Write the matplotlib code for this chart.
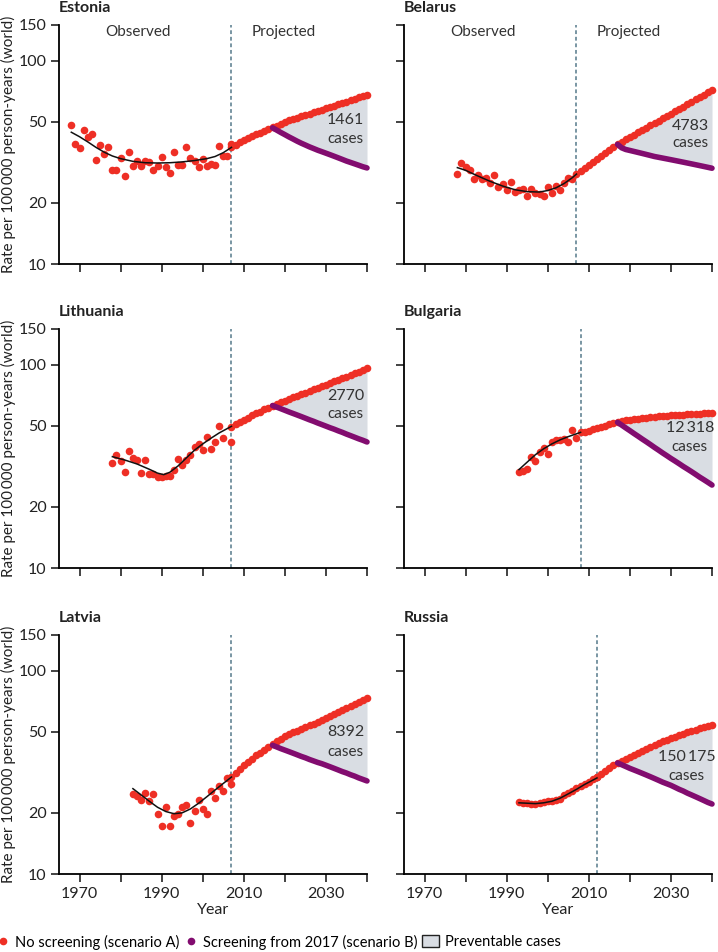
import numpy as np
import matplotlib
matplotlib.use('Agg')
from matplotlib import pyplot as plt
from matplotlib.lines import Line2D
from matplotlib.patches import Patch

plt.rcParams['font.family'] = ['Lato', 'DejaVu Sans']

RED = '#ee2f25'
PURPLE = '#820c6f'
FILL = '#d9dde3'
DASH = '#55798a'

# ---- data ----
countries = ['Estonia', 'Belarus', 'Lithuania', 'Bulgaria', 'Latvia', 'Russia']
cases = ['1461', '4783', '2770', '12\u2009318', '8392', '150\u2009175']
cutoff = [2007, 2007, 2007, 2008, 2007, 2012]

obs_years = {
    'Estonia': list(range(1968, 2008)),
    'Belarus': list(range(1978, 2007)),
    'Lithuania': list(range(1978, 2006)) + [2007],
    'Bulgaria': list(range(1993, 2008)),
    'Latvia': list(range(1983, 2008)),
    'Russia': list(range(1993, 2013)),
}
obs_rate = {
    'Estonia': [48.3, 38.8, 37.1, 45.8, 42.0, 43.8, 32.6, 38.4, 34.7, 37.8,
                29.1, 29.1, 33.1, 27.1, 35.4, 30.5, 32.0, 30.5, 32.0, 31.6,
                29.1, 30.5, 33.6, 30.1, 28.1, 35.7, 30.8, 30.8, 37.6, 33.2,
                32.3, 30.1, 32.9, 30.2, 31.1, 30.6, 38.2, 34.0, 34.0, 38.8],
    'Belarus': [27.6, 31.3, 30.1, 29.0, 26.2, 27.5, 26.2, 26.5, 25.0, 27.5,
                23.8, 24.7, 23.1, 25.3, 22.7, 23.1, 23.4, 21.6, 23.5, 22.4,
                22.1, 21.6, 23.8, 22.4, 24.3, 23.1, 25.1, 26.6, 26.1],
    'Lithuania': [32.7, 36.1, 33.7, 29.7, 37.8, 34.6, 34.1, 29.3, 33.9, 29.1,
                  29.0, 28.2, 27.9, 28.5, 28.4, 30.5, 34.5, 32.0, 34.0, 35.8,
                  39.3, 40.8, 38.2, 44.2, 38.6, 41.5, 50.1, 43.6, 41.5],
    'Bulgaria': [29.7, 29.9, 30.7, 35.3, 33.5, 37.2, 38.9, 36.5, 41.5, 42.5,
                 42.5, 43.3, 41.5, 48.0, 43.6],
    'Latvia': [24.7, 24.3, 23.1, 24.9, 22.9, 24.7, 19.7, 17.3, 21.4, 17.3,
               19.3, 19.7, 21.4, 21.9, 17.9, 20.4, 23.1, 20.8, 19.7, 25.6,
               23.7, 27.2, 25.6, 29.6, 27.7],
    'Russia': [22.5, 22.3, 22.4, 22.2, 22.1, 22.3, 22.6, 22.9, 22.8, 23.2,
               23.4, 24.4, 25.0, 25.7, 26.5, 27.2, 27.8, 28.5, 29.4, 30.0],
}

fit_years = {
    'Estonia': [1968, 1970, 1972, 1974, 1976, 1978, 1980, 1983, 1986, 1989,
                1992, 1995, 1998, 2001, 2003, 2005, 2007],
    'Belarus': [1978, 1980, 1983, 1986, 1989, 1992, 1995, 1998, 2000, 2002,
                2004, 2006, 2007],
    'Lithuania': [1978, 1981, 1984, 1987, 1989, 1990.5, 1992, 1994, 1996,
                  1998, 2000, 2002, 2004, 2007],
    'Bulgaria': [1993, 1995, 1997, 1999, 2001, 2003, 2005, 2008],
    'Latvia': [1983, 1985, 1987, 1989, 1991, 1993, 1995, 1997, 1999, 2001,
               2003, 2005, 2007],
    'Russia': [1993, 1995, 1997, 1999, 2001, 2003, 2005, 2007, 2009, 2012],
}
fit_rate = {
    'Estonia': [44.5, 42.3, 39.9, 37.5, 35.5, 34.0, 33.0, 32.0, 31.5, 31.4,
                31.5, 31.8, 32.3, 33.0, 33.8, 35.3, 37.5],
    'Belarus': [29.8, 28.9, 27.1, 25.5, 24.2, 23.2, 22.7, 22.6, 23.0, 23.7,
                24.9, 26.6, 27.7],
    'Lithuania': [35.3, 34.0, 32.5, 30.6, 29.3, 28.8, 29.6, 31.8, 34.8, 38.0,
                  40.8, 43.5, 46.2, 49.8],
    'Bulgaria': [30.5, 33.2, 36.1, 38.6, 40.8, 42.7, 44.3, 46.5],
    'Latvia': [26.3, 24.5, 22.8, 21.3, 20.3, 19.8, 20.0, 20.9, 22.3, 24.0,
               25.9, 27.9, 30.0],
    'Russia': [22.4, 22.3, 22.2, 22.4, 22.8, 23.6, 24.8, 26.1, 27.6, 29.7],
}

# scenario A projections, one value per year from the cutoff year to 2040
proj_a = {
    'Estonia': [37.5, 38.6, 39.7, 40.7, 41.6, 42.5, 43.4, 44.3, 45.2, 46.1,
                47.0, 48.0, 49.1, 50.1, 50.9, 51.7, 52.5, 53.3, 54.1, 54.9,
                55.7, 56.5, 57.4, 58.3, 59.2, 60.1, 61.0, 62.0, 63.0, 64.0,
                65.0, 66.0, 67.0, 68.0],
    'Belarus': [27.8, 28.7, 29.7, 30.7, 31.7, 32.8, 33.9, 35.0, 36.2, 37.5,
                38.8, 39.9, 41.0, 42.1, 43.2, 44.4, 45.6, 46.8, 48.1, 49.4,
                50.7, 52.1, 53.5, 54.9, 56.4, 57.9, 59.5, 61.1, 62.8, 64.5,
                66.2, 68.0, 69.9, 71.8],
    'Lithuania': [49.5, 50.9, 52.3, 53.7, 55.0, 56.3, 57.6, 58.9, 60.3, 61.6,
                  63.0, 64.2, 65.4, 66.6, 67.8, 69.1, 70.4, 71.7, 73.0, 74.3,
                  75.7, 77.1, 78.4, 79.8, 81.3, 82.8, 84.3, 85.9, 87.5, 89.1,
                  90.8, 92.5, 94.2, 96.0],
    'Bulgaria': [46.5, 46.9, 47.4, 48.1, 48.8, 49.5, 50.2, 50.9, 51.5, 52.1,
                 52.7, 53.2, 53.7, 54.0, 54.3, 54.6, 54.9, 55.2, 55.5, 55.7,
                 55.9, 56.2, 56.4, 56.6, 56.8, 56.9, 57.1, 57.2, 57.4, 57.5,
                 57.6, 57.8, 57.9],
    'Latvia': [30.0, 31.5, 33.0, 34.4, 35.7, 37.0, 38.3, 39.6, 40.9, 42.2,
               43.6, 45.0, 46.4, 47.7, 48.7, 49.7, 50.7, 51.7, 52.7, 53.8,
               54.9, 56.0, 57.1, 58.3, 59.7, 61.1, 62.5, 64.0, 65.5, 67.0,
               68.6, 70.2, 71.9, 73.6],
    'Russia': [30.1, 31.1, 32.1, 33.2, 34.2, 35.3, 36.1, 37.0, 37.8, 38.7,
               39.6, 40.5, 41.4, 42.3, 43.1, 44.0, 44.9, 45.7, 46.6, 47.4,
               48.2, 49.0, 49.8, 50.5, 51.3, 52.0, 52.7, 53.4, 54.1],
}

# scenario B, screening from 2017, one value per year 2017-2040
proj_b_years = list(range(2017, 2041))
proj_b = {
    'Estonia': [46.8, 45.6, 44.4, 43.3, 42.2, 41.2, 40.2, 39.3, 38.5, 37.7,
                37.0, 36.3, 35.7, 35.1, 34.5, 33.9, 33.3, 32.7, 32.1, 31.6,
                31.1, 30.6, 30.1, 29.7],
    'Belarus': [38.8, 37.3, 36.6, 36.2, 35.8, 35.4, 35.0, 34.6, 34.2, 33.8,
                33.5, 33.2, 32.9, 32.6, 32.3, 32.0, 31.7, 31.4, 31.1, 30.8,
                30.5, 30.2, 29.9, 29.6],
    'Lithuania': [63.0, 61.9, 60.8, 59.7, 58.6, 57.6, 56.6, 55.6, 54.6, 53.6,
                  52.7, 51.7, 50.8, 49.9, 49.0, 48.2, 47.3, 46.5, 45.6, 44.8,
                  44.0, 43.2, 42.5, 41.7],
    'Bulgaria': [52.1, 50.5, 48.9, 47.4, 45.9, 44.5, 43.1, 41.8, 40.5, 39.2,
                 38.0, 36.8, 35.7, 34.6, 33.6, 32.6, 31.6, 30.7, 29.8, 28.9,
                 28.0, 27.2, 26.4, 25.6],
    'Latvia': [43.0, 42.2, 41.4, 40.7, 40.0, 39.3, 38.6, 37.9, 37.3, 36.6,
               36.0, 35.4, 34.9, 34.3, 33.7, 33.1, 32.5, 31.9, 31.4, 30.8,
               30.3, 29.7, 29.2, 28.7],
    'Russia': [35.2, 34.5, 33.8, 33.1, 32.5, 31.9, 31.3, 30.7, 30.1, 29.5,
               28.9, 28.3, 27.8, 27.3, 26.7, 26.1, 25.6, 25.0, 24.5, 24.0,
               23.5, 23.0, 22.5, 22.1],
}

# text position of the "cases" label (year, rate of number line, rate of "cases" line)
label_pos = {
    'Estonia': (2034.8, 51.2, 41.0),
    'Belarus': (2034.8, 47.7, 39.4),
    'Lithuania': (2034.8, 70.5, 57.3),
    'Bulgaria': (2034.6, 48.9, 39.3),
    'Latvia': (2034.8, 49.8, 40.0),
    'Russia': (2033.8, 37.5, 30.5),
}

yticks = [10, 20, 50, 100, 150]
xticks = [1970, 1980, 1990, 2000, 2010, 2020, 2030, 2040]
xlabels = ['1970', '', '1990', '', '2010', '', '2030', '']

W, H = 718, 952
fig = plt.figure(figsize=(W / 100, H / 100), dpi=100)

lefts = [59, 404]
tops = [25, 329, 635]
aw, ah = 308, 239

for i, c in enumerate(countries):
    row, col = divmod(i, 2)
    x0 = lefts[col]
    y0 = tops[row]
    ax = fig.add_axes([x0 / W, 1 - (y0 + ah) / H, aw / W, ah / H])
    ax.set_yscale('log')
    ax.set_xlim(1965, 2040)
    ax.set_ylim(10, 150)
    for s in ['top', 'right']:
        ax.spines[s].set_visible(False)
    for s in ['left', 'bottom']:
        ax.spines[s].set_linewidth(1.3)
    ax.set_yticks(yticks)
    ax.yaxis.set_minor_locator(matplotlib.ticker.NullLocator())
    ax.set_xticks(xticks)
    ax.tick_params(direction='out', length=6, width=1.2, labelsize=11.5,
                   colors='#222222', pad=3)
    if col == 0:
        ax.set_yticklabels([str(t) for t in yticks])
        ax.set_ylabel('Rate per 100\u2009000 person-years (world)', fontsize=11,
                      labelpad=2, color='#222222')
    else:
        ax.set_yticklabels([])
    if row == 2:
        ax.set_xticklabels(xlabels)
        ax.set_xlabel('Year', fontsize=11.5, labelpad=2, color='#222222')
    else:
        ax.set_xticklabels([])

    ax.text(0, 1.071, c, transform=ax.transAxes, fontsize=11.5,
            fontweight='bold', color='#222222', ha='left', va='center')

    cut = cutoff[i]
    ax.axvline(cut, color=DASH, lw=1.1, ls=(0, (2.5, 1.8)), zorder=1)
    if row == 0:
        ax.text(1984.2, 0.971, 'Observed', transform=ax.get_xaxis_transform(),
                ha='center', va='center', fontsize=11, color='#333333')
        ax.text(2019.7, 0.971, 'Projected', transform=ax.get_xaxis_transform(),
                ha='center', va='center', fontsize=11, color='#333333')

    pa = proj_a[c]
    pa_years = list(range(cut, cut + len(pa)))
    pb = proj_b[c]
    a_after = [v for y, v in zip(pa_years, pa) if y >= 2017]
    ax.fill_between(proj_b_years, pb, a_after, color=FILL, lw=0, zorder=1)

    ax.scatter(obs_years[c], obs_rate[c], s=30, color=RED, lw=0, zorder=3,
               clip_on=False)
    ax.plot(fit_years[c], fit_rate[c], color='#111111', lw=1.1, zorder=4)
    ax.scatter(pa_years, pa, s=30, color=RED, lw=0, zorder=3, clip_on=False)
    ax.plot(proj_b_years, pb, color=PURPLE, lw=4, solid_capstyle='round',
            zorder=5, clip_on=False)

    lx, ly1, ly2 = label_pos[c]
    ax.text(lx, ly1, cases[i], ha='center', va='center', fontsize=11.5,
            color='#333333', zorder=6)
    ax.text(lx, ly2, 'cases', ha='center', va='center', fontsize=11,
            color='#333333', zorder=6)

# legend: three separate entries placed along the bottom
legend_items = [
    (Line2D([], [], ls='none', marker='o', ms=5.5, color=RED, mec='none'),
     'No screening (scenario A)', -2, 0.7),
    (Line2D([], [], ls='none', marker='o', ms=5.5, color=PURPLE, mec='none'),
     'Screening from 2017 (scenario B)', 186, 0.7),
    (Patch(facecolor=FILL, edgecolor='#222222', lw=1),
     'Preventable cases', 422, 1.15),
]
for handle, text, xpx, hl in legend_items:
    fig.legend([handle], [text], loc='center left',
               bbox_to_anchor=(xpx / W, 1 - 942 / H), frameon=False,
               fontsize=10.5, handlelength=hl, handleheight=0.8,
               handletextpad=0.45, borderpad=0, borderaxespad=0)

fig.savefig('out.png', dpi=100)
